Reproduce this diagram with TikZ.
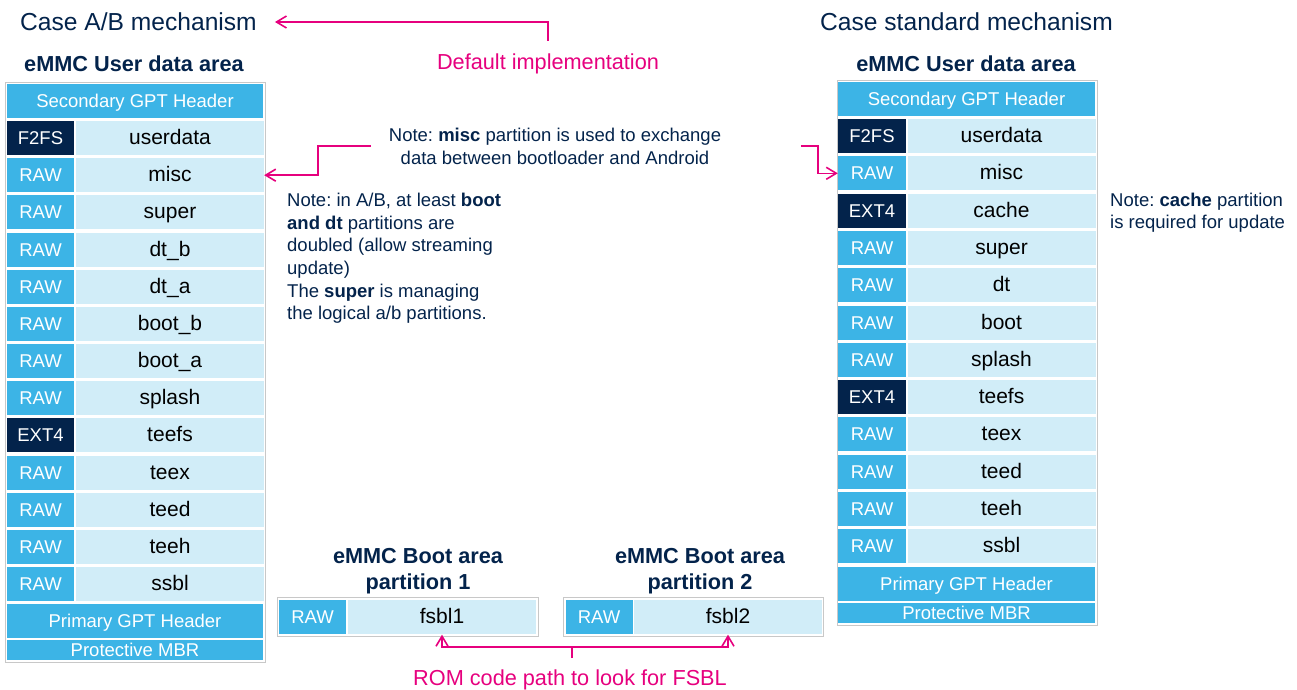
\documentclass[tikz,border=0pt]{standalone}
\usepackage{fontspec}
\setmainfont{Liberation Sans}
\frenchspacing
\usetikzlibrary{arrows.meta}

\definecolor{stblue}{HTML}{3CB4E6}
\definecolor{stlight}{HTML}{D1EDF8}
\definecolor{stnavy}{HTML}{03234B}
\definecolor{stpink}{HTML}{E6007E}
\definecolor{stgray}{HTML}{C8C8C8}

\begin{document}
\begin{tikzpicture}[x=1pt, y=-1pt,
  >={Straight Barb[length=10pt,width=12pt]},
  link/.style={->, draw=stpink, line width=1.6pt},
  cell/.style={inner sep=0pt, minimum height=34pt},
  fsraw/.style={cell, fill=stblue, text=white, minimum width=67pt,
    text height=13.5pt, text depth=0.5pt,
    font=\fontsize{18.5}{22}\selectfont},
  fsdark/.style={fsraw, fill=stnavy},
  pname/.style={cell, fill=stlight, text=black, minimum width=188pt,
    text height=15.5pt, text depth=2.5pt,
    font=\fontsize{21}{25}\selectfont},
  gpt/.style={cell, fill=stblue, text=white, minimum width=256pt,
    text height=13.5pt, text depth=0.5pt,
    font=\fontsize{18.5}{22}\selectfont},
  mbr/.style={gpt, minimum height=20pt},
  boxframe/.style={draw=stgray, line width=1pt, fill=white},
  heading/.style={text=stnavy, inner sep=0pt, font=\fontsize{24.6}{28}\selectfont},
  area/.style={text=stnavy, inner sep=0pt, align=center,
    font=\fontsize{21.7}{26}\selectfont\bfseries},
  note/.style={text=stnavy, inner sep=0pt, font=\fontsize{18.5}{22.6}\selectfont},
  pinktext/.style={text=stpink, inner sep=0pt, font=\fontsize{21.7}{26}\selectfont}
]
\useasboundingbox (0,0) rectangle (1297,689);

% titles
\node[heading, anchor=west] (caseab) at (20,22) {Case A/B mechanism};
\node[heading, anchor=west] (casestd) at (820,22) {Case standard mechanism};
\node[pinktext] (defimpl) at (548,63.5) {Default implementation};
\node[area] (luser) at (134,64) {eMMC User data area};
\node[area] (ruser) at (966,64) {eMMC User data area};

% A/B user data area
\draw[boxframe] (5,82) rectangle (265,662);
\node[gpt] (lsec) at (135,101) {Secondary GPT Header};
\foreach \s/\f/\p [count=\i] in {fsdark/F2FS/userdata, fsraw/RAW/misc,
    fsraw/RAW/super, fsraw/RAW/dt\_b, fsraw/RAW/dt\_a, fsraw/RAW/boot\_b,
    fsraw/RAW/boot\_a, fsraw/RAW/splash, fsdark/EXT4/teefs, fsraw/RAW/teex,
    fsraw/RAW/teed, fsraw/RAW/teeh, fsraw/RAW/ssbl} {
  \node[\s] (lfs\i) at (40.5,{138+(\i-1)*37.17}) {\f};
  \node[pname] (lpn\i) at (170,{138+(\i-1)*37.17}) {\p};
}
\node[gpt] (lpri) at (135,621) {Primary GPT Header};
\node[mbr] (lmbr) at (135,650) {Protective MBR};

% standard user data area
\draw[boxframe] (837,80) rectangle (1097,625);
\node[gpt, minimum width=257pt] (rsec) at (966.5,99) {Secondary GPT Header};
\foreach \s/\f/\p [count=\i] in {fsdark/F2FS/userdata, fsraw/RAW/misc,
    fsdark/EXT4/cache, fsraw/RAW/super, fsraw/RAW/dt, fsraw/RAW/boot,
    fsraw/RAW/splash, fsdark/EXT4/teefs, fsraw/RAW/teex, fsraw/RAW/teed,
    fsraw/RAW/teeh, fsraw/RAW/ssbl} {
  \node[\s, minimum width=68pt] (rfs\i) at (872,{136+(\i-1)*37.3}) {\f};
  \node[pname] (rpn\i) at (1001.5,{136+(\i-1)*37.3}) {\p};
}
\node[gpt, minimum width=257pt] (rpri) at (966.5,583.5) {Primary GPT Header};
\node[mbr, minimum width=257pt] (rmbr) at (966.5,613) {Protective MBR};

% boot area partitions
\node[area] (boot1) at (418,571.5) {eMMC Boot area\\partition 1};
\node[area] (boot2) at (700,571.5) {eMMC Boot area\\partition 2};
\draw[boxframe] (277,597) rectangle (538,636);
\node[fsraw] (braw1) at (312.5,616.5) {RAW};
\node[pname] (fsbl1) at (442,616.5) {fsbl1};
\draw[boxframe] (563,597) rectangle (823,636);
\node[fsraw] (braw2) at (599,616.5) {RAW};
\node[pname] (fsbl2) at (728,616.5) {fsbl2};

% notes
\node[note, align=center, anchor=north] (mnote) at (555,128)
  {Note: \textbf{misc} partition is used to exchange\\
   data between bootloader and Android};
\node[note, align=left, anchor=north west] (abnote) at (287,193)
  {Note: in A/B, at least \textbf{boot}\\
   \textbf{and dt} partitions are\\
   doubled (allow streaming\\
   update)\\
   The \textbf{super} is managing\\
   the logical a/b partitions.};
\node[note, align=left, anchor=north west, font=\fontsize{18.5}{22.2}\selectfont]
  (cnote) at (1110,193)
  {Note: \textbf{cache} partition\\ is required for update};
\node[pinktext] (rom) at (570,680) {ROM code path to look for FSBL};

% arrows
\draw[link] ([yshift=12.5pt]defimpl.north) |- ([xshift=18pt]caseab.east);
\draw[link] ([xshift=-18pt]mnote.west) -- ++(-53,0) |- (lpn2.east);
\draw[link] ([xshift=79.5pt]mnote.east) -- ++(17,0) |- (rfs2.west);
\coordinate (rj) at (572,647);
\draw[stpink, line width=1.6pt] (rj |- 0,658) -- (rj);
\draw[link, shorten >=1pt] (rj) -| (fsbl1.south);
\draw[link, shorten >=1pt] (rj) -| (fsbl2.south);
\end{tikzpicture}
\end{document}
